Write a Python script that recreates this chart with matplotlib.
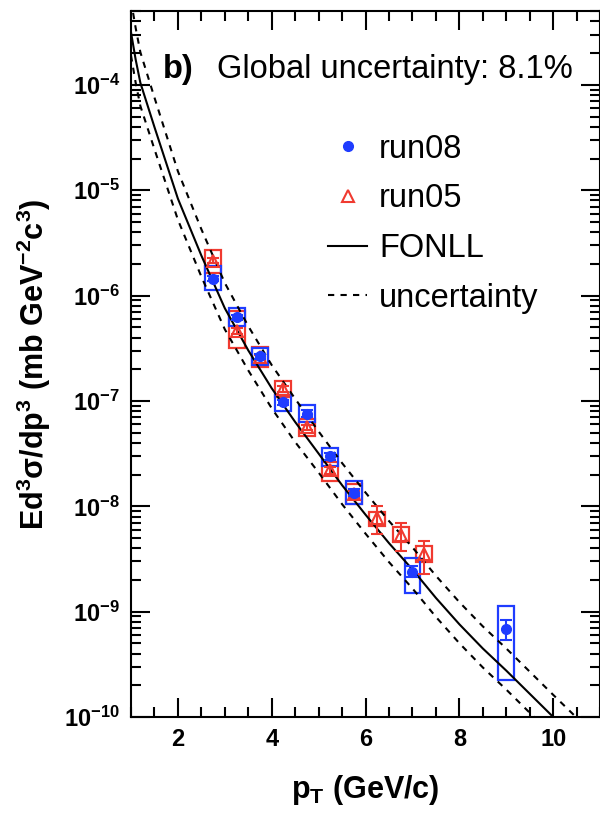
import numpy as np
import matplotlib
matplotlib.use("Agg")
from matplotlib import pyplot as plt
from matplotlib.patches import Rectangle
from matplotlib.lines import Line2D
from matplotlib.ticker import MultipleLocator, LogLocator, LogFormatterMathtext

plt.rcParams["font.family"] = ["Liberation Sans", "DejaVu Sans"]
plt.rcParams["mathtext.default"] = "regular"

# run08 (blue, filled circles)
pt08 = [2.75, 3.25, 3.75, 4.25, 4.75, 5.25, 5.75, 7.0, 9.0]
y08 = [1.45e-6, 6.2e-7, 2.65e-7, 9.7e-8, 7.6e-8, 3.0e-8, 1.35e-8, 2.4e-9, 6.9e-10]
stat08 = [0.05, 0.05, 0.05, 0.06, 0.07, 0.08, 0.08, 0.12, 0.22]
sys08_lo = [1.12e-6, 5.1e-7, 2.2e-7, 8.1e-8, 6.3e-8, 2.4e-8, 1.05e-8, 1.5e-9, 2.25e-10]
sys08_hi = [1.9e-6, 7.6e-7, 3.2e-7, 1.15e-7, 9.1e-8, 3.55e-8, 1.74e-8, 3.2e-9, 1.12e-9]

# run05 (red, open triangles)
pt05 = [2.75, 3.25, 3.75, 4.25, 4.75, 5.25, 5.75, 6.25, 6.75, 7.25]
y05 = [2.15e-6, 4.6e-7, 2.6e-7, 1.3e-7, 5.6e-8, 2.2e-8, 1.3e-8, 7.8e-9, 5.4e-9, 3.5e-9]
stat05 = [0.06, 0.06, 0.05, 0.06, 0.06, 0.07, 0.08, 0.3, 0.3, 0.35]
sys05_lo = [1.65e-6, 3.2e-7, 2.1e-7, 1.1e-7, 4.7e-8, 1.75e-8, 1.05e-8, 6.5e-9, 4.6e-9, 2.95e-9]
sys05_hi = [2.7e-6, 7.2e-7, 3.25e-7, 1.55e-7, 6.7e-8, 2.65e-8, 1.62e-8, 8.9e-9, 6.3e-9, 4.2e-9]

# FONLL central value and uncertainty band (log10 of cross section)
fonll_pt = [1.0, 1.1, 1.2, 1.5, 2.0, 2.5, 3.0, 3.5, 4.0, 4.5, 5.0, 5.5, 6.0, 6.5, 7.0, 7.5, 8.0, 8.5, 9.0, 9.5, 10.0, 10.6]
fonll_log = [-3.50, -3.76, -3.98, -4.40, -5.08, -5.62, -6.12, -6.52, -6.88, -7.20, -7.50, -7.80, -8.08, -8.35, -8.60, -8.87, -9.12, -9.35, -9.56, -9.78, -10.0, -10.26]
fonll_up = [0.30, 0.30, 0.29, 0.28, 0.26, 0.25, 0.24, 0.23, 0.22, 0.22, 0.21, 0.21, 0.21, 0.21, 0.21, 0.21, 0.21, 0.21, 0.21, 0.21, 0.21, 0.21]
fonll_dn = [0.22, 0.22, 0.22, 0.21, 0.20, 0.20, 0.20, 0.19, 0.19, 0.19, 0.18, 0.18, 0.18, 0.18, 0.18, 0.18, 0.18, 0.18, 0.18, 0.18, 0.18, 0.18]

blue = "#1f3cff"
red = "#f03a30"
box_hw = 0.17
dash = (0, (3, 3))

fig = plt.figure(figsize=(6.0, 8.15), dpi=100)
ax = fig.add_axes([0.2183, 0.1202, 0.782, 0.866])

# theory curves
fl = np.array(fonll_log)
ax.plot(fonll_pt, 10 ** fl, color="black", lw=1.5)
ax.plot(fonll_pt, 10 ** (fl + np.array(fonll_up)), color="black", lw=1.5, ls=dash)
ax.plot(fonll_pt, 10 ** (fl - np.array(fonll_dn)), color="black", lw=1.5, ls=dash)

# systematic boxes
for x, lo, hi in zip(pt05, sys05_lo, sys05_hi):
    ax.add_patch(Rectangle((x - box_hw, lo), 2 * box_hw, hi - lo, fill=False, ec=red, lw=1.6))
for x, lo, hi in zip(pt08, sys08_lo, sys08_hi):
    ax.add_patch(Rectangle((x - box_hw, lo), 2 * box_hw, hi - lo, fill=False, ec=blue, lw=1.6))

# points with stat errors
y05a = np.array(y05)
ax.errorbar(pt05, y05, yerr=y05a * np.array(stat05), fmt="^", ms=8, mfc="none", mec=red, mew=1.5,
            ecolor=red, elinewidth=1.5, capsize=4, capthick=1.5, zorder=4)
y08a = np.array(y08)
ax.errorbar(pt08, y08, yerr=y08a * np.array(stat08), fmt="o", ms=7, color=blue, ecolor=blue,
            elinewidth=1.5, capsize=4, capthick=1.5, zorder=5)

ax.set_yscale("log")
ax.set_xlim(1, 11)
ax.set_ylim(1e-10, 5e-4)

ax.xaxis.set_major_locator(MultipleLocator(2))
ax.xaxis.set_minor_locator(MultipleLocator(0.5))
ax.yaxis.set_major_locator(LogLocator(base=10, numticks=20))
ax.yaxis.set_minor_locator(LogLocator(base=10, subs=np.arange(2, 10), numticks=20))
ax.yaxis.set_major_formatter(LogFormatterMathtext())
ax.yaxis.set_minor_formatter(plt.NullFormatter())

ax.tick_params(which="both", direction="in", top=True, right=True, width=1.5)
ax.tick_params(which="major", length=14, labelsize=17, pad=8)
ax.tick_params(which="minor", length=7)
for lab in ax.get_xticklabels() + ax.get_yticklabels():
    lab.set_fontweight("bold")
for sp in ax.spines.values():
    sp.set_linewidth(1.5)

ax.set_xlabel("p$_T$ (GeV/c)", fontsize=22, fontweight="bold", labelpad=16)
ax.set_ylabel("Ed$^3$σ/dp$^3$ (mb GeV$^{-2}$c$^3$)", fontsize=22, fontweight="bold", labelpad=8)

ax.text(0.068, 0.918, "b)", transform=ax.transAxes, fontsize=23.5, fontweight="bold", va="center")
ax.text(0.183, 0.918, "Global uncertainty: 8.1%", transform=ax.transAxes, fontsize=23.5, va="center")

handles = [Line2D([], [], ls="none", marker="o", ms=7, color=blue),
           Line2D([], [], ls="none", marker="^", ms=8, mfc="none", mec=red, mew=1.5),
           Line2D([], [], color="black", lw=1.5),
           Line2D([], [], color="black", lw=1.5, ls=dash)]
labels = ["run08", "run05", "FONLL", "uncertainty"]
ax.legend(handles, labels, loc="upper left", bbox_to_anchor=(0.358, 0.868), frameon=False,
          fontsize=23.5, handlelength=1.2, handletextpad=0.35, labelspacing=0.57)

fig.savefig("out.png", dpi=100)
